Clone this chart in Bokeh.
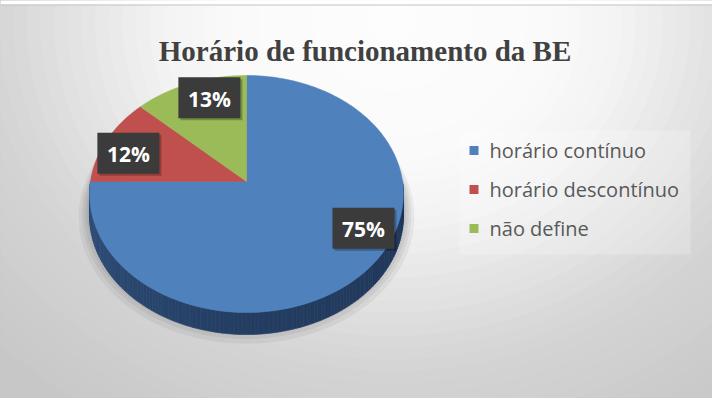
import numpy as np
from bokeh.plotting import figure
from bokeh.models import Range1d
from bokeh.embed import file_html
from bokeh.resources import INLINE
from bokeh.core.properties import value

# ---------------- data ----------------
title_text = "Horário de funcionamento da BE"
categories = ["horário contínuo", "horário descontínuo", "não define"]
percent = [75, 12, 13]
colors = ["#4F81BD", "#C0504D", "#9BBB59"]
label_texts = ["75%", "12%", "13%"]

# ---------------- layout / style ----------------
W, H = 712, 398
cx, cy = 246.0, 181.0       # pie centre (screen px)
rx, ry = 156.0, 117.2       # pie radii
k = 0.1055                  # perspective
thick = 22.0                # pie depth
label_f = 0.815
label_nudge = [17.0, 4.0, -5.0]   # degrees, label placement tweaks


def hex2rgb(h):
    h = h.lstrip("#")
    return tuple(int(h[i:i + 2], 16) for i in (0, 2, 4))


def rgb2hex(c):
    return "#%02x%02x%02x" % tuple(int(max(0, min(255, round(v)))) for v in c)


def mix(a, b, w):
    return tuple(a[i] * (1 - w) + b[i] * w for i in range(3))


def proj(theta, f=1.0, dz=0.0, scale=1.0):
    X = f * np.cos(theta) * scale
    Y = f * np.sin(theta) * scale
    d = 1 + k * np.sin(theta) * f
    return cx + rx * X / d, cy - ry * Y / d + dz


p = figure(width=W, height=H, x_range=Range1d(0, W), y_range=Range1d(H, 0),
           output_backend="svg", toolbar_location=None, min_border=0,
           x_axis_location=None, y_axis_location=None)
p.grid.visible = False
p.outline_line_color = None
p.background_fill_color = "white"
p.border_fill_color = "white"

# ---------------- background gradient ----------------
gx, gy, ga, gb = 392.0, 22.0, 560.0, 480.0
stops_t = [0, 0.3, 0.42, 0.64, 0.72, 1.0, 1.7]
stops_g = [253, 250, 243, 221, 213, 199, 193]
ts = np.linspace(1.7, 0.02, 70)
gcols = [rgb2hex((g, g, g)) for g in np.interp(ts, stops_t, stops_g)]
p.ellipse(x=[gx] * len(ts), y=[gy] * len(ts), width=list(2 * ga * ts),
          height=list(2 * gb * ts), fill_color=gcols, line_color=None)
# white strip above chart area and top border
p.quad(left=[0], right=[W], top=[0], bottom=[4], fill_color="white", line_color=None)
p.line(x=[0, W], y=[4.5, 4.5], line_color="#c4c4c4", line_width=1)

# ---------------- pie ----------------
fracs = np.array(percent, dtype=float) / sum(percent)
starts = np.pi / 2 - 2 * np.pi * np.concatenate([[0], np.cumsum(fracs)[:-1]])
ends = starts - 2 * np.pi * fracs

# shadow
full = np.linspace(0, 2 * np.pi, 200)
sh_x, sh_y = [], []
for s, dz in zip([1.07, 1.05, 1.035, 1.02, 1.01], [22, 20, 18, 16, 14]):
    x, y = proj(full, 1.0, 0.0)
    x = cx + (x - cx) * s
    y = cy + (y - cy) * s + dz
    sh_x.append(list(x)); sh_y.append(list(y))
p.patches(xs=sh_x, ys=sh_y, fill_color="#000000", fill_alpha=0.05, line_color=None)


def slice_of(theta):
    for i in range(len(fracs)):
        t = theta
        while t > starts[i]:
            t -= 2 * np.pi
        while t <= starts[i] - 2 * np.pi:
            t += 2 * np.pi
        if t >= ends[i]:
            return i
    return 0


# side (front half)
N = 140
th = np.linspace(np.pi, 2 * np.pi, N + 1)
side_x, side_y, side_c = [], [], []
navy = (10, 22, 45)
for j in range(N):
    a0, a1 = th[j], th[j + 1]
    x0, y0 = proj(a0)
    x1, y1 = proj(a1)
    side_x.append([x0, x1, x1, x0])
    side_y.append([y0, y1, y1 + thick, y0 + thick])
    u = ((a0 + a1) / 2 - np.pi) / np.pi
    w = np.interp(u, [0, 0.5, 1], [0.45, 0.63, 0.70])
    side_c.append(rgb2hex(mix(hex2rgb(colors[slice_of((a0 + a1) / 2)]), navy, w)))
p.patches(xs=side_x, ys=side_y, fill_color=side_c, line_color=side_c, line_width=0.6)

# top face
tx, ty = [], []
for s0, e0 in zip(starts, ends):
    n = max(8, int(abs(s0 - e0) / (2 * np.pi) * 240))
    a = np.linspace(s0, e0, n)
    x, y = proj(a)
    tx.append([cx] + list(x))
    ty.append([cy] + list(y))
p.patches(xs=tx, ys=ty, fill_color=colors, line_color=colors, line_width=0.5)

# data labels
mids = (starts + ends) / 2 + np.radians(label_nudge)
lx, ly = proj(mids, label_f)
p.rect(x=list(lx + 2), y=list(ly + 2), width=62, height=41, fill_color="#000000",
       fill_alpha=0.25, line_color=None)
p.rect(x=list(lx), y=list(ly), width=62, height=41, fill_color="#3b3b3b", line_color=None)
p.text(x=list(lx), y=list(ly + 1), text=label_texts, text_color="white",
       text_font=value("Open Sans"), text_font_style="bold", text_font_size="21px",
       text_align="center", text_baseline="middle")

# ---------------- legend ----------------
leg_y = [150 + 39 * i for i in range(len(categories))]
p.quad(left=[459], right=[690], top=[130], bottom=[254], fill_color="#ffffff",
       fill_alpha=0.22, line_color=None)
p.rect(x=[473.5] * len(categories), y=leg_y, width=9, height=9, fill_color=colors,
       line_color=None)
p.text(x=[489] * len(categories), y=leg_y, text=categories, text_color="#595959",
       text_font=value("Open Sans"), text_font_size="20px", text_align="left",
       text_baseline="middle")

# ---------------- title ----------------
p.text(x=[364.5], y=[50], text=[title_text], text_color="#404040",
       text_font=value("Liberation Serif"), text_font_style="bold",
       text_font_size="29px", text_align="center", text_baseline="alphabetic")

open("out.html", "w").write(file_html(p, INLINE))
